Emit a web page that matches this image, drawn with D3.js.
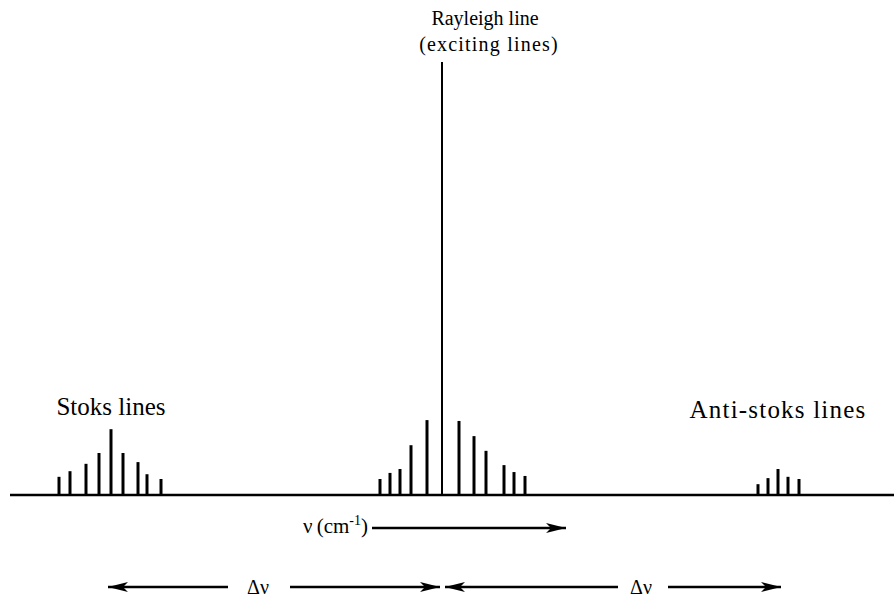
<!DOCTYPE html>
<html>
<head>
<meta charset="utf-8">
<script src="https://cdn.jsdelivr.net/npm/d3@7"></script>
</head>
<body style="margin:0; background:#fff">
<div id="container"></div>
<script>
// shift from the exciting line (arbitrary units) and relative intensity
let stoksShift = [-383, -372, -356, -343, -331, -319, -304, -295, -281];
let stoksIntensity = [4.2, 5.5, 7.2, 9.7, 15.2, 9.7, 7.6, 4.8, 3.7];

let centerShift = [-62, -52, -42, -31, -15, 0, 17, 32, 44, 62, 72, 83];
let centerIntensity = [3.7, 5.1, 6.0, 11.5, 17.3, 100, 17.1, 13.6, 10.2, 6.9, 5.3, 4.4];

let antiShift = [316, 326, 336, 346, 357];
let antiIntensity = [2.5, 3.9, 6.0, 4.2, 3.7];

let w = 894;
let h = 600;
let serif = "'Liberation Serif', 'Times New Roman', serif";

let viz = d3.select("#container")
  .append("svg")
    .attr("width", w)
    .attr("height", h)
;

let xScale = d3.scaleLinear().domain([-432, 452]).range([10, 894]);
let yScale = d3.scaleLinear().domain([0, 100]).range([495, 62]);

// arrow heads
let defs = viz.append("defs");
defs.append("marker")
    .attr("id", "head")
    .attr("viewBox", "0 0 20 10")
    .attr("refX", 20)
    .attr("refY", 5)
    .attr("markerWidth", 20)
    .attr("markerHeight", 10)
    .attr("markerUnits", "userSpaceOnUse")
    .attr("orient", "auto-start-reverse")
  .append("path")
    .attr("d", "M0,0 L20,5 L0,10 L5,5 Z")
    .attr("fill", "#000")
;

// baseline
viz.append("line")
  .attr("x1", 10).attr("x2", w)
  .attr("y1", yScale(0)).attr("y2", yScale(0))
  .attr("stroke", "#000")
  .attr("stroke-width", 2.5)
;

function makeLines(shifts, intensities){
  return shifts.map(function(s, i){ return {shift: s, intensity: intensities[i]}; });
}
let allLines = makeLines(stoksShift, stoksIntensity)
  .concat(makeLines(centerShift, centerIntensity))
  .concat(makeLines(antiShift, antiIntensity));

viz.selectAll(".specline").data(allLines).enter()
  .append("line")
    .attr("class", "specline")
    .attr("x1", function(d){ return xScale(d.shift); })
    .attr("x2", function(d){ return xScale(d.shift); })
    .attr("y1", yScale(0))
    .attr("y2", function(d){ return yScale(d.intensity); })
    .attr("stroke", "#000")
    .attr("stroke-width", function(d){ return d.shift == 0 ? 2 : 3; })
;

function label(x, y, str, size, spacing){
  return viz.append("text")
    .attr("x", x).attr("y", y)
    .attr("text-anchor", "middle")
    .style("font-family", serif)
    .style("font-size", size + "px")
    .style("letter-spacing", (spacing || 0) + "px")
    .text(str);
}

// labels
let rx = xScale(0);
label(rx + 43, 25, "Rayleigh line", 20);
label(rx + 47, 51, "(exciting lines)", 20, 1.2);
label(xScale(-331), 415, "Stoks lines", 25);
label(xScale(336), 418, "Anti-stoks lines", 25, 1.2);

// wavenumber axis arrow
let nu = viz.append("text").attr("x", 368).attr("y", 533)
  .attr("text-anchor", "end")
  .style("font-family", serif)
  .style("font-size", "21px");
nu.append("tspan").text("\u03bd\u2009(cm");
nu.append("tspan").style("font-size", "14px").attr("dy", -8).text("-1");
nu.append("tspan").attr("dy", 8).text(")");

viz.append("line")
  .attr("x1", 372).attr("x2", 566)
  .attr("y1", 528).attr("y2", 528)
  .attr("stroke", "#000").attr("stroke-width", 2.5)
  .attr("marker-end", "url(#head)")
;

// delta nu arrows
let ay = 587;
function deltaArrow(from, to, gapL, gapR, labelX){
  viz.append("line")
    .attr("x1", gapL).attr("x2", from)
    .attr("y1", ay).attr("y2", ay)
    .attr("stroke", "#000").attr("stroke-width", 2.5)
    .attr("marker-end", "url(#head)");
  viz.append("line")
    .attr("x1", gapR).attr("x2", to)
    .attr("y1", ay).attr("y2", ay)
    .attr("stroke", "#000").attr("stroke-width", 2.5)
    .attr("marker-end", "url(#head)");
  label(labelX, ay + 7, "\u0394\u03bd", 20);
}
deltaArrow(xScale(-334), xScale(-2), 228, 290, 258);
deltaArrow(xScale(3), xScale(339), 618, 668, 641);
</script>
</body>
</html>
